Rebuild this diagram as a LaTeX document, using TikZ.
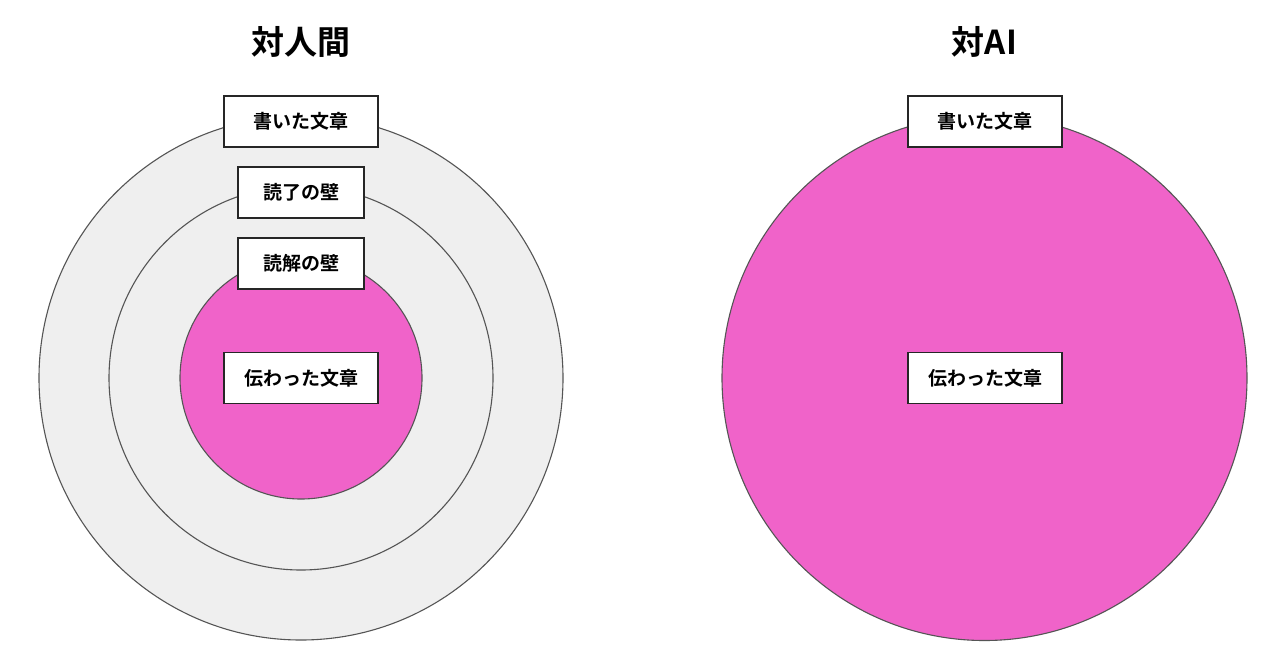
\documentclass[tikz,border=0pt]{standalone}
\usepackage{fontspec}
\setmainfont{Noto Sans CJK JP}
\newfontfamily\jpbold{Noto Sans CJK JP Bold}
\definecolor{pinkfill}{HTML}{F063C9}
\definecolor{grayfill}{HTML}{EFEFEF}
\definecolor{ringline}{HTML}{555555}
\begin{document}
\begin{tikzpicture}[x=1pt,y=-1pt,
  ring/.style={draw=ringline,line width=1.1pt},
  lbl/.style={draw=black!85,fill=white,line width=1.1pt,minimum height=51pt,inner sep=0pt,font=\jpbold\fontsize{19}{21}\selectfont},
  ttl/.style={font=\jpbold\fontsize{33}{36}\selectfont}]
\useasboundingbox (0,0) rectangle (1280,670);
\fill[white] (0,0) rectangle (1280,670);
% left
\draw[ring,fill=grayfill] (301,378) circle[radius=262];
\draw[ring,fill=grayfill] (301,378) circle[radius=192];
\draw[ring,fill=pinkfill] (301,378) circle[radius=121];
\node[ttl] (t1) at (301,42) {対人間};
\node[lbl,minimum width=154pt] (a1) at (301,121.5) {書いた文章};
\node[lbl,minimum width=126pt] (a2) at (301,192.5) {読了の壁};
\node[lbl,minimum width=126pt] (a3) at (301,263.5) {読解の壁};
\node[lbl,minimum width=154pt] (a4) at (301,378) {伝わった文章};
% right
\draw[ring,fill=pinkfill] (984.5,378) circle[radius=262.5];
\node[ttl] (t2) at (984.5,42) {対AI};
\node[lbl,minimum width=154pt] (b1) at (985,121.5) {書いた文章};
\node[lbl,minimum width=154pt] (b2) at (985,378) {伝わった文章};
\end{tikzpicture}
\end{document}
